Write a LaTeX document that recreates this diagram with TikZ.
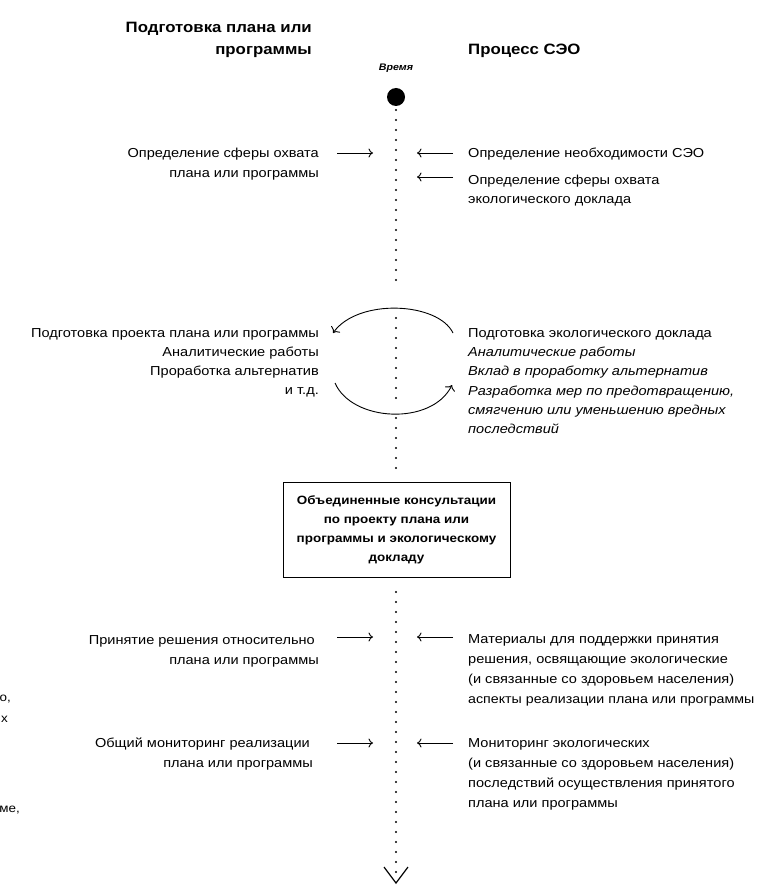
\documentclass[tikz,border=0pt]{standalone}
\usepackage{fontspec}
\setmainfont[FakeStretch=1.12]{Liberation Sans}
\usetikzlibrary{arrows.meta}
\tikzset{
  txt/.style={font=\fontsize{13}{#1}\selectfont, inner sep=0pt},
  lt/.style={txt=#1, align=right, anchor=base east},
  rt/.style={txt=#1, align=left, anchor=base west},
  ttl/.style={font=\fontsize{15}{22}\selectfont\bfseries, inner sep=0pt},
  dotline/.style={line width=2.4pt, line cap=round, dash pattern=on 0pt off 10pt},
  arr/.style={-{To[length=4.5pt,width=9pt]}, line width=0.9pt},
  arc/.style={-{To[length=5pt,width=11pt]}, line width=0.9pt},
  cbox/.style={draw, line width=1pt, minimum width=227pt, minimum height=95pt, inner sep=0pt,
    align=center, font=\fontsize{12}{19}\selectfont\bfseries},
  frag/.style={font=\fontsize{12}{14}\selectfont, inner sep=0pt, anchor=base east}
}
\begin{document}
\begin{tikzpicture}[x=1pt,y=-1pt]
\useasboundingbox[fill=white] (0,0) rectangle (756,885);
% titles
\node[ttl, align=right, anchor=base east] (tl) at (312,55) {Подготовка плана или\\программы};
\node[ttl, anchor=base west] (tr) at (468,55) {Процесс СЭО};
\node[font=\fontsize{9.5}{12}\selectfont\bfseries\itshape, inner sep=0pt] (time) at (396,68) {Время};
% timeline
\node[circle, fill=black, inner sep=0pt, minimum size=18pt] (start) at (396,97) {};
\coordinate (t0) at (396,110);
\coordinate (t1) at (396,290);
\coordinate (t2) at (396,318);
\coordinate (t3) at (396,400);
\coordinate (t4) at (396,418);
\coordinate (t5) at (396,470);
\coordinate (t6) at (396,592);
\coordinate (t7) at (396,873);
\coordinate (end) at (396,883);
\draw[dotline] (t0) -- (t1);
\draw[dotline] (t2) -- (t3);
\draw[dotline] (t4) -- (t5);
\draw[dotline] (t6) -- (t7);
\draw[line width=1.2pt] (end) ++(-12,-16) -- (end) -- ++(12,-16);
% box
\node[cbox] (box) at (396.5,529.5) {Объединенные консультации\\по проекту плана или\\программы и экологическому\\докладу};
% row 1
\node[lt=20] (l1) at (319,177.5) {Определение сферы охвата\\плана или программы};
\node[rt=19] (r1a) at (468,157.5) {Определение необходимости СЭО};
\node[rt=19] (r1b) at (468,203.5) {Определение сферы охвата\\экологического доклада};
\coordinate (a1s) at (337,153); \coordinate (a1e) at (373,153);
\coordinate (b1s) at (453,153); \coordinate (b1e) at (417,153);
\coordinate (c1s) at (453,177); \coordinate (c1e) at (417,177);
\draw[arr] (a1s) -- (a1e);
\draw[arr] (b1s) -- (b1e);
\draw[arr] (c1s) -- (c1e);
% row 2
\node[lt=19] (l2) at (319,394.5) {Подготовка проекта плана или программы\\Аналитические работы\\Проработка альтернатив\\и т.д.};
\node[rt=19.2] (r2) at (468,433.5) {Подготовка экологического доклада\\\itshape Аналитические работы\\\itshape Вклад в проработку альтернатив\\\itshape Разработка мер по предотвращению,\\\itshape смягчению или уменьшению вредных\\\itshape последствий};
\coordinate (p1) at (453,333); \coordinate (p2) at (333,333);
\coordinate (q1) at (335,383); \coordinate (q2) at (452,385);
\draw[arc] (p1) .. controls (438,302) and (358,298) .. (p2);
\draw[arc] (q1) .. controls (352,422) and (432,426) .. (q2);
% row 3
\node[lt=20] (l3) at (315,664.5) {Принятие решения относительно\\\hspace*{0pt}плана или программы\hspace*{-4pt}};
\node[rt=20] (r3) at (468,703.5) {Материалы для поддержки принятия\\решения, освящающие экологические\\(и связанные со здоровьем населения)\\{\fontsize{12.7}{20}\selectfont аспекты реализации плана или программы}};
\coordinate (a3s) at (337,637); \coordinate (a3e) at (373,637);
\coordinate (b3s) at (453,637); \coordinate (b3e) at (417,637);
\draw[arr] (a3s) -- (a3e);
\draw[arr] (b3s) -- (b3e);
% row 4
\node[lt=20] (l4) at (310,767.5) {Общий мониторинг реализации\\плана или программы\hspace*{-3pt}};
\node[rt=20] (r4) at (468,807.5) {Мониторинг экологических\\(и связанные со здоровьем населения)\\последствий осуществления принятого\\плана или программы};
\coordinate (a4s) at (337,743); \coordinate (a4e) at (373,743);
\coordinate (b4s) at (453,743); \coordinate (b4e) at (417,743);
\draw[arr] (a4s) -- (a4e);
\draw[arr] (b4s) -- (b4e);
% fragments at left edge
\node[frag] (f1) at (11,701) {о,};
\node[frag] (f2) at (8,722) {х};
\node[frag] (f3) at (20,812) {ме,};
\end{tikzpicture}
\end{document}
